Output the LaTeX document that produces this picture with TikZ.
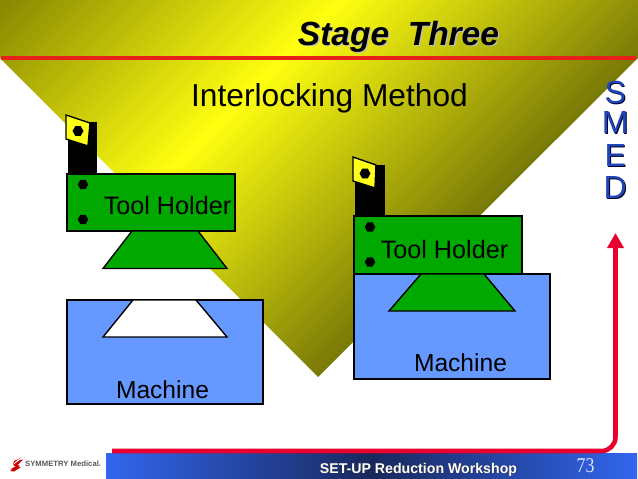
\documentclass[tikz,border=0pt]{standalone}
\usepackage{fontspec}
\setmainfont{Liberation Sans}
\newfontfamily\timesf{Liberation Serif}
\usetikzlibrary{arrows.meta,shapes.geometric}
\definecolor{holdergreen}{HTML}{00A800}
\definecolor{machineblue}{HTML}{6699FF}
\definecolor{insertyellow}{HTML}{FFFF1A}
\definecolor{olivedark}{HTML}{737300}
\definecolor{olivedarker}{HTML}{696906}
\definecolor{brightyellow}{HTML}{FFFF10}
\definecolor{titlered}{HTML}{E8201A}
\definecolor{arrowred}{HTML}{E8002E}
\definecolor{smedblue}{HTML}{1F45B8}
\definecolor{footblue}{HTML}{3266EE}
\definecolor{footdark}{HTML}{18285C}
\tikzset{
  part/.style={draw=black,line width=1.4pt,line join=miter},
  holderbox/.style={part,fill=holdergreen},
  machinebox/.style={part,fill=machineblue},
  holderlabel/.style={font=\fontsize{25.2}{26}\selectfont,inner sep=0pt,anchor=base},
  machinelabel/.style={font=\fontsize{24.6}{26}\selectfont,inner sep=0pt,anchor=base},
  hexhole/.style={regular polygon,regular polygon sides=6,fill=black,inner sep=0pt,minimum size=11pt},
  smedletter/.style={font=\fontsize{32}{32}\selectfont,inner sep=0pt,anchor=base},
}
\begin{document}
\begin{tikzpicture}[x=1pt,y=-1pt]
\useasboundingbox (0,0) rectangle (638,479);
\fill[white] (0,0) rectangle (638,479);
% gradient backdrop
\begin{scope}
  \clip (0,0) -- (638,0) -- (638,58) -- (318,377) -- (0,58) -- cycle;
  \begin{scope}[transform canvas={rotate around={-45:(340,0)}}]
    \shade[left color=olivedark,right color=olivedarker,middle color=brightyellow]
      (60,-700) rectangle (620,700);
  \end{scope}
\end{scope}
\draw[titlered,line width=4pt] (1,58) -- (636,58);
% title
\node[font=\fontsize{33.5}{34}\selectfont\bfseries\itshape,text=black!25,inner sep=0pt,anchor=base] (titleshadow) at (399.8,46.7) {Stage\ \ Three};
\node[font=\fontsize{33.5}{34}\selectfont\bfseries\itshape,inner sep=0pt,anchor=base] (title) at (398.5,45.5) {Stage\ \ Three};
\node[font=\fontsize{31.7}{32}\selectfont,inner sep=0pt,anchor=base] (subtitle) at (329.5,106) {Interlocking Method};
% SMED
\foreach \ltr/\yy/\nm in {S/103.5/s,M/133.5/m,E/166.5/e,D/198.5/d}{
  \node[smedletter,text=black!85!blue] (smed\nm shadow) at (616.2,\yy+0.8) {\ltr};
  \node[smedletter,text=smedblue] (smed\nm) at (615.2,\yy) {\ltr};
}
% left assembly
\fill[black] (68,122) rectangle (97,174);
\draw[part,fill=insertyellow] (66,115) -- (90,123) -- (88,146) -- (66,139) -- cycle;
\node[hexhole] (lefthole) at (78,131) {};
\draw[holderbox] (67,174) rectangle (235,231);
\draw[holderbox] (132,231) -- (198,231) -- (227,268.5) -- (103,268.5) -- cycle;
\node[hexhole,minimum size=10.5pt] (leftscrewa) at (83,184.5) {};
\node[hexhole,minimum size=10.5pt] (leftscrewb) at (83,219.5) {};
\node[holderlabel] (leftholder) at (167.5,214.5) {Tool Holder};
\draw[machinebox] (67,300) rectangle (263,404);
\draw[part,fill=white] (133,300) -- (196,300) -- (227,337) -- (103,337) -- cycle;
\node[machinelabel] (leftmachine) at (162.5,398) {Machine};
% right assembly
\fill[black] (355,165) rectangle (385,216);
\draw[part,fill=insertyellow] (353,157) -- (376,165) -- (375,188) -- (353,181) -- cycle;
\node[hexhole] (righthole) at (365,173.5) {};
\draw[machinebox] (354,274) rectangle (550,379);
\draw[holderbox] (354,216) rectangle (522,274);
\draw[holderbox] (421,274) -- (484,274) -- (515,311) -- (389,311) -- cycle;
\node[hexhole,minimum size=10.5pt] (rightscrewa) at (370,227) {};
\node[hexhole,minimum size=10.5pt] (rightscrewb) at (370,262) {};
\node[holderlabel] (rightholder) at (444.5,258) {Tool Holder};
\node[machinelabel] (rightmachine) at (460.5,371) {Machine};
% footer
\shade[left color=footblue,right color=footblue,middle color=footdark] (106,453) rectangle (637,478);
\coordinate (arrowstart) at (112,451);
\coordinate (arrowbend) at (615.5,451);
\coordinate (arrowtip) at (615.5,233);
\draw[arrowred,line width=4.6pt,rounded corners=14pt,-{Triangle[length=15pt,width=16pt]}]
  (arrowstart) -- (arrowbend) -- (arrowtip);
\node[font=\fontsize{14.15}{16}\selectfont\bfseries,text=black!80,inner sep=0pt,anchor=base] (footshadow) at (419.2,473.7) {SET-UP Reduction Workshop};
\node[font=\fontsize{14.15}{16}\selectfont\bfseries,text=white,inner sep=0pt,anchor=base] (foot) at (418.5,473) {SET-UP Reduction Workshop};
\node[font=\fontsize{21}{22}\selectfont\timesf,text=white!88!blue,inner sep=0pt,anchor=base,xscale=0.85] (pagenum) at (585.5,472) {73};
% logo
\fill[red!80!black] (10,471) -- (17,467) -- (21,467) -- (14,471.5) -- cycle;
\fill[red!80!black] (13,465) -- (20,460) -- (23,459.5) -- (16,466.5) -- cycle;
\fill[red!80!black] (13,464) -- (17,460) -- (21,457.5) -- (14,461) -- cycle;
\fill[red!80!black] (11,469) -- (18,465) -- (20,466) -- (12,470) -- cycle;
\node[font=\fontsize{7.7}{9}\selectfont\bfseries,text=black!65,inner sep=0pt,anchor=base west] (logotext) at (25,466) {SYMMETRY Medical.};
\end{tikzpicture}
\end{document}
